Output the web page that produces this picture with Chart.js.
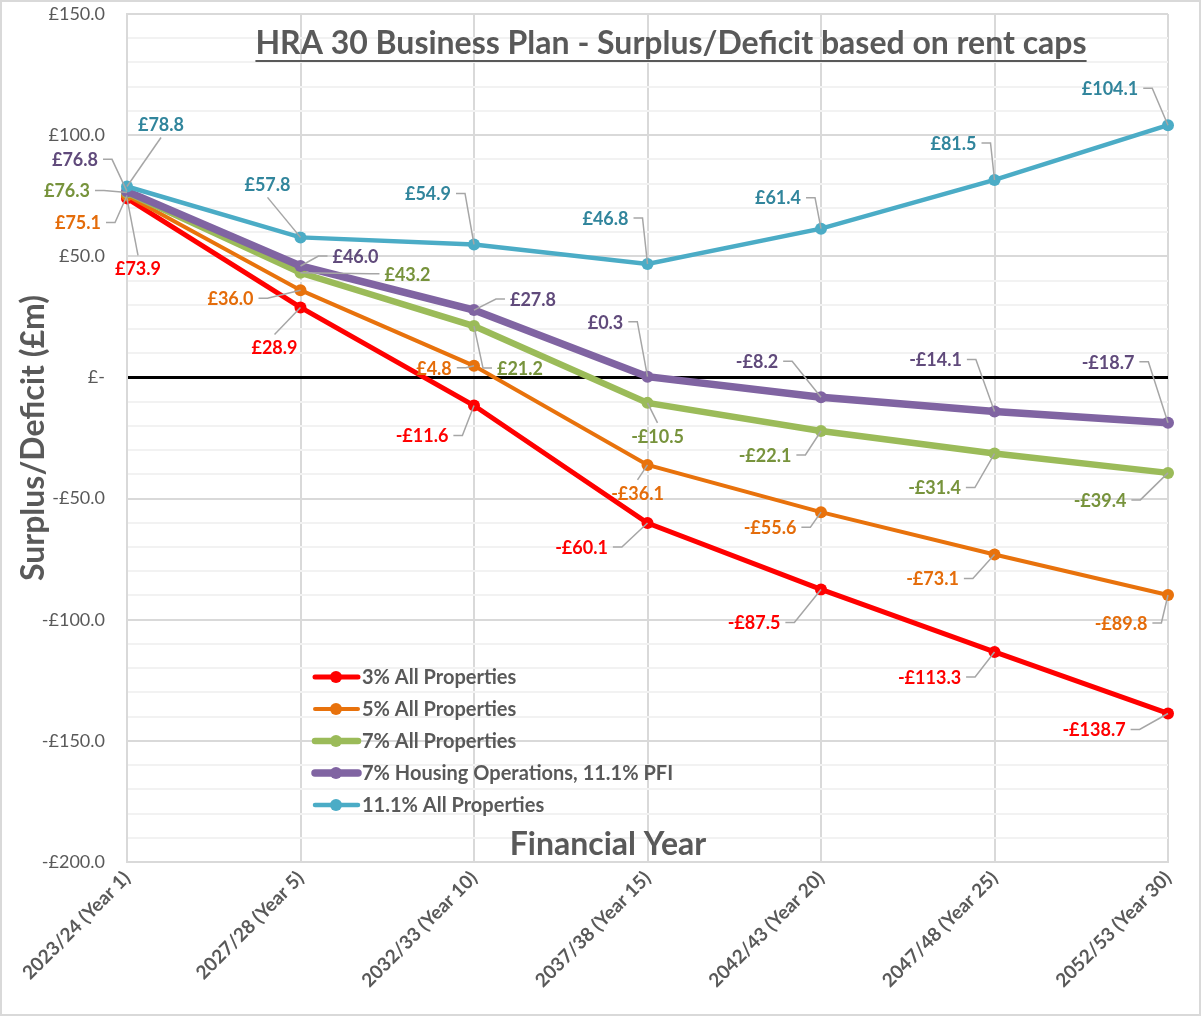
<!DOCTYPE html>
<html>
<head>
<meta charset="utf-8">
<script src="https://cdn.jsdelivr.net/npm/chart.js@4.4.1/dist/chart.umd.min.js"></script>
<style>
  html, body { margin: 0; padding: 0; background: #fff; }
  #wrap { width: 1201px; height: 1016px; position: relative; }
</style>
</head>
<body>
<div id="wrap"><canvas id="chart"></canvas></div>
<script>
// Categories
const years = [
    "2023/24 (Year 1)", "2027/28 (Year 5)", "2032/33 (Year 10)", "2037/38 (Year 15)",
    "2042/43 (Year 20)", "2047/48 (Year 25)", "2052/53 (Year 30)",
];

// Surplus/Deficit (£m) per rent cap scenario
const rent3 = [73.9, 28.9, -11.6, -60.1, -87.5, -113.3, -138.7];
const rent5 = [75.1, 36.0, 4.8, -36.1, -55.6, -73.1, -89.8];
const rent7 = [76.3, 43.2, 21.2, -10.5, -22.1, -31.4, -39.4];
const rent7HousingOps = [76.8, 46.0, 27.8, 0.3, -8.2, -14.1, -18.7];
const rent111 = [78.8, 57.8, 54.9, 46.8, 61.4, 81.5, 104.1];

const seriesNames = [
    "3% All Properties",
    "5% All Properties",
    "7% All Properties",
    "7% Housing Operations, 11.1% PFI",
    "11.1% All Properties",
];

// Y axis range
const yMin = -200;
const yMax = 150;

const FONT = "Lato, 'Open Sans', sans-serif";
const GREY_TEXT = "#595959";

// Series colours (line, label)
const colors = [
    { line: "#ff0000", label: "#ff0000", width: 5 },
    { line: "#e8720c", label: "#e46c0a", width: 4 },
    { line: "#9bbb59", label: "#77933c", width: 6.5 },
    { line: "#8064a2", label: "#604a7b", width: 7.5 },
    { line: "#4bacc6", label: "#31859c", width: 4.5 },
];

// Label offset from each point, in pixels [dx, dy]
const labelOffsets = [
    [[11, 70], [-26, 40], [-52, 30], [-66, 24], [-67, 33], [-65, 25], [-74, 16]],
    [[-49, 27], [-70, 8], [-40, 2], [-10, 28], [-51, 15], [-62, 24], [-47, 28]],
    [[-60, -2], [107, 1], [46, 42], [10, 33], [-56, 24], [-60, 34], [-68, 27]],
    [[-52, -32], [55, -10], [59, -11], [-42, -55], [-64, -36], [-59, -52], [-60, -61]],
    [[34, -62], [-33, -53], [-46, -51], [-42, -46], [-43, -31], [-41, -37], [-58, -37]],
];

// Format money like "£46.0" / "-£10.5"
function money(v) {
    if (v < 0) return `-£${Math.abs(v).toFixed(1)}`;
    return `£${v.toFixed(1)}`;
}

function axisMoney(v) {
    if (v === 0) return "£-";
    return money(v);
}

// Leader line from point to label
function drawLeader(ctx, px, py, lx, ly, w) {
    const half = w / 2 + 5;
    const left = lx - half;
    const right = lx + half;
    ctx.beginPath();
    if (px > right + 8) {
        const knee = Math.min(right + 9, px);
        ctx.moveTo(right, ly);
        ctx.lineTo(knee, ly);
        ctx.lineTo(px, py);
    } else if (px < left - 8) {
        const knee = Math.max(left - 9, px);
        ctx.moveTo(left, ly);
        ctx.lineTo(knee, ly);
        ctx.lineTo(px, py);
    } else {
        const ey = py < ly ? ly - 13 : ly + 13;
        ctx.moveTo(px, py);
        ctx.lineTo(lx, ey);
    }
    ctx.stroke();
}

const backgroundPlugin = {
    id: "background",
    beforeDraw(chart) {
        const { ctx, width, height } = chart;
        ctx.save();
        ctx.fillStyle = "#fff";
        ctx.fillRect(0, 0, width, height);
        ctx.strokeStyle = "#d9d9d9";
        ctx.lineWidth = 2;
        ctx.strokeRect(1, 1, width - 2, height - 2);
        ctx.restore();
    },
};

const labelPlugin = {
    id: "pointLabels",
    afterDatasetsDraw(chart) {
        const ctx = chart.ctx;
        ctx.save();
        ctx.font = `bold 18px ${FONT}`;
        ctx.textAlign = "center";
        ctx.textBaseline = "middle";
        ctx.strokeStyle = "#a6a6a6";
        ctx.lineWidth = 1.5;
        chart.data.datasets.forEach((ds, di) => {
            const meta = chart.getDatasetMeta(di);
            meta.data.forEach((pt, i) => {
                const [dx, dy] = labelOffsets[di][i];
                const text = money(ds.data[i]);
                const w = ctx.measureText(text).width;
                const lx = pt.x + dx;
                const ly = pt.y + dy;
                drawLeader(ctx, pt.x, pt.y, lx, ly, w);
                ctx.fillStyle = colors[di].label;
                ctx.fillText(text, lx, ly + 1);
            });
        });
        ctx.restore();
    },
};

const extrasPlugin = {
    id: "extras",
    afterDraw(chart) {
        const ctx = chart.ctx;
        ctx.save();

        // Title with underline, inside the plot
        const title = "HRA 30 Business Plan - Surplus/Deficit based on rent caps";
        ctx.font = `bold 32px ${FONT}`;
        ctx.fillStyle = GREY_TEXT;
        ctx.textAlign = "center";
        ctx.textBaseline = "middle";
        const tx = 671;
        const ty = 44;
        ctx.fillText(title, tx, ty);
        const tw = ctx.measureText(title).width;
        ctx.strokeStyle = GREY_TEXT;
        ctx.lineWidth = 2;
        ctx.beginPath();
        ctx.moveTo(tx - tw / 2, ty + 17);
        ctx.lineTo(tx + tw / 2, ty + 17);
        ctx.stroke();

        // X axis title, inside the plot
        ctx.fillText("Financial Year", 608, 845);

        // Legend
        ctx.font = `bold 20px ${FONT}`;
        ctx.textAlign = "left";
        seriesNames.forEach((name, i) => {
            const y = 677 + i * 32;
            ctx.strokeStyle = colors[i].line;
            ctx.lineWidth = colors[i].width;
            ctx.lineCap = "round";
            ctx.beginPath();
            ctx.moveTo(315, y);
            ctx.lineTo(358, y);
            ctx.stroke();
            ctx.fillStyle = colors[i].line;
            ctx.beginPath();
            ctx.arc(336, y, 6, 0, Math.PI * 2);
            ctx.fill();
            ctx.fillStyle = GREY_TEXT;
            ctx.fillText(name, 362, y + 1);
        });
        ctx.restore();
    },
};

function makeDataset(label, data, i) {
    return {
        label,
        data,
        borderColor: colors[i].line,
        backgroundColor: colors[i].line,
        pointBackgroundColor: colors[i].line,
        pointBorderColor: colors[i].line,
        borderWidth: colors[i].width,
        pointRadius: 6,
        pointBorderWidth: 0,
        tension: 0,
        order: 5 - i,
    };
}

function init() {
    const ctx = document.getElementById("chart");
    const allSeries = [rent3, rent5, rent7, rent7HousingOps, rent111];

    new Chart(ctx, {
        type: "line",
        data: {
            labels: years,
            datasets: allSeries.map((d, i) => makeDataset(seriesNames[i], d, i)),
        },
        options: {
            responsive: true,
            maintainAspectRatio: false,
            animation: false,
            devicePixelRatio: 1,
            layout: { padding: { top: 14, right: 33, left: 0, bottom: 0 } },
            plugins: {
                legend: { display: false },
                tooltip: { enabled: false },
            },
            scales: {
                x: {
                    offset: false,
                    afterFit: (scale) => {
                        scale.height = 154;
                        scale.paddingLeft = 0;
                        scale.paddingRight = 0;
                    },
                    grid: { color: "#d9d9d9", lineWidth: 2, drawTicks: false },
                    border: { color: "#d9d9d9", width: 2 },
                    ticks: {
                        maxRotation: 45,
                        minRotation: 45,
                        padding: 5,
                        color: GREY_TEXT,
                        font: { family: FONT, size: 19, weight: "bold" },
                    },
                },
                y: {
                    min: yMin,
                    max: yMax,
                    afterFit: (scale) => {
                        scale.width = 127;
                        scale.paddingTop = 0;
                        scale.paddingBottom = 0;
                    },
                    grid: {
                        drawTicks: false,
                        color: (c) => {
                            const v = c.tick.value;
                            if (v === 0) return "#000";
                            return v % 50 === 0 ? "#d9d9d9" : "#f2f2f2";
                        },
                        lineWidth: (c) => (c.tick.value === 0 ? 3 : 2),
                    },
                    border: { color: "#d9d9d9", width: 2 },
                    ticks: {
                        stepSize: 10,
                        autoSkip: false,
                        padding: 22,
                        color: GREY_TEXT,
                        font: { family: FONT, size: 18 },
                        callback: (v) => (v % 50 === 0 ? axisMoney(v) : ""),
                    },
                    title: {
                        display: true,
                        text: "Surplus/Deficit (£m)",
                        color: GREY_TEXT,
                        font: { family: FONT, size: 32, weight: "bold" },
                        padding: { top: 14, bottom: 0 },
                    },
                },
            },
        },
        plugins: [backgroundPlugin, labelPlugin, extrasPlugin],
    });
}

init();
</script>
</body>
</html>
